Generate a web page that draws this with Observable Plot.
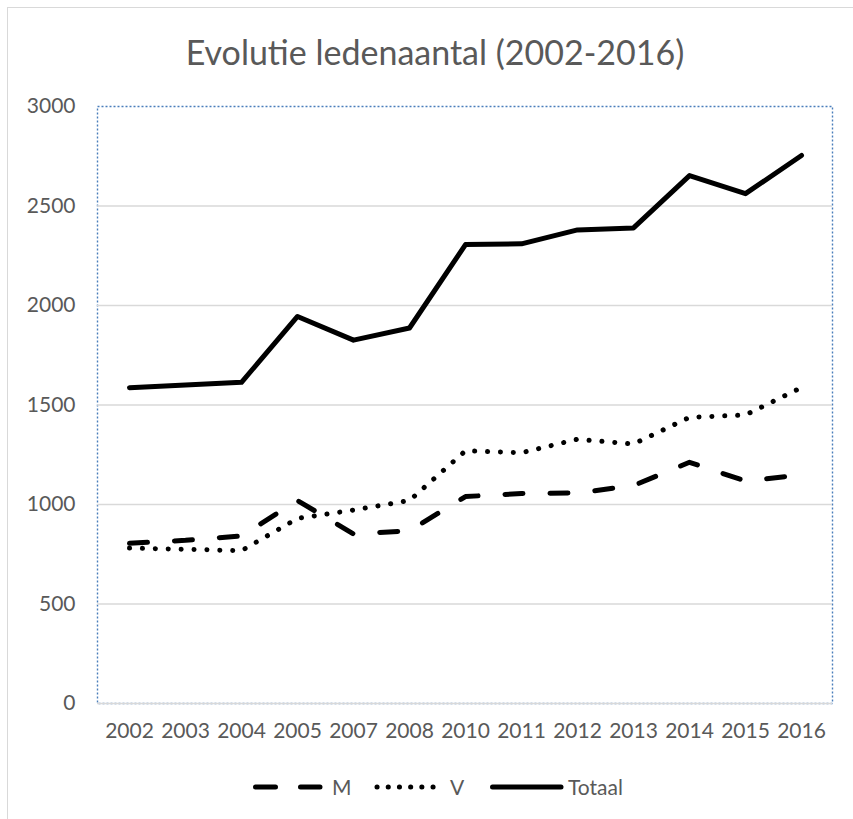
<!DOCTYPE html>
<html>
<head>
<meta charset="utf-8">
<script src="https://cdn.jsdelivr.net/npm/d3@7"></script>
<script src="https://cdn.jsdelivr.net/npm/@observablehq/plot@0.6"></script>
<style>
  html, body { margin: 0; padding: 0; background: #fff; overflow: hidden; }
  #wrap { position: relative; width: 853px; height: 819px; overflow: hidden; font-family: Lato, "Liberation Sans", sans-serif; color: #595959; }
  #border { position: absolute; left: 7px; top: 7px; width: 900px; height: 900px; border: 1.5px solid #d9d9d9; box-sizing: border-box; }
  #title { position: absolute; left: 0; width: 870px; top: 32px; text-align: center; font-size: 34px; line-height: 40px; color: #595959; }
  #chart { position: absolute; left: 0; top: 90px; }
  .leg { position: absolute; top: 775px; height: 24px; }
  .legtxt { position: absolute; top: 774px; font-size: 21px; line-height: 26px; color: #595959; }
</style>
</head>
<body>
<div id="wrap">
  <div id="border"></div>
  <div id="title">Evolutie ledenaantal (2002-2016)</div>
  <div id="chart"></div>
  <svg class="leg" style="left:250px" width="76" height="24"><line x1="5.5" y1="12" x2="70" y2="12" stroke="#000" stroke-width="5" stroke-linecap="round" stroke-dasharray="20 25"/></svg>
  <div class="legtxt" style="left:332px">M</div>
  <svg class="leg" style="left:372px" width="76" height="24"><line x1="5" y1="12" x2="71" y2="12" stroke="#000" stroke-width="5" stroke-linecap="round" stroke-dasharray="0.1 11.1"/></svg>
  <div class="legtxt" style="left:450px">V</div>
  <svg class="leg" style="left:487px" width="80" height="24"><line x1="5.5" y1="12" x2="74" y2="12" stroke="#000" stroke-width="5" stroke-linecap="round"/></svg>
  <div class="legtxt" style="left:568px">Totaal</div>
</div>
<script>
const years = ["2002","2003","2004","2005","2007","2008","2010","2011","2012","2013","2014","2015","2016"];
const seriesM = [805, 820, 842, 1020, 852, 868, 1040, 1055, 1058, 1095, 1212, 1118, 1148];
const seriesV = [781, 775, 768, 930, 972, 1020, 1270, 1260, 1328, 1304, 1438, 1450, 1588];
const seriesTotaal = [1587, 1600, 1614, 1945, 1826, 1887, 2306, 2310, 2380, 2390, 2653, 2562, 2754];
const yTicks = [0, 500, 1000, 1500, 2000, 2500, 3000];
const gridTicks = [0, 500, 1000, 1500, 2000, 2500];

const toRows = (arr) => years.map((y, i) => ({year: y, value: arr[i]}));

const chart = Plot.plot({
  width: 853,
  height: 680,
  marginLeft: 97,
  marginRight: 21,
  marginTop: 16,
  marginBottom: 67,
  style: {fontFamily: "Lato, 'Liberation Sans', sans-serif", fontSize: "21px", color: "#595959", background: "transparent", overflow: "visible"},
  x: {type: "point", domain: years, padding: 0.5},
  y: {domain: [0, 3000]},
  marks: [
    Plot.frame({stroke: "#4a7ebb", strokeWidth: 1.4, strokeDasharray: "2 2"}),
    Plot.ruleY(gridTicks, {stroke: "#d9d9d9", strokeWidth: 1.5}),
    Plot.axisY({ticks: yTicks, tickSize: 0, tickPadding: 22, tickFormat: d => String(d), label: null, fontSize: 21}),
    Plot.axisX({tickSize: 0, tickPadding: 20, label: null, fontSize: 21}),
    Plot.line(toRows(seriesM), {x: "year", y: "value", stroke: "#000", strokeWidth: 5, strokeDasharray: "18 27", strokeLinecap: "round", strokeLinejoin: "round"}),
    Plot.line(toRows(seriesV), {x: "year", y: "value", stroke: "#000", strokeWidth: 5, strokeDasharray: "0.1 12.8", strokeLinecap: "round", strokeLinejoin: "round"}),
    Plot.line(toRows(seriesTotaal), {x: "year", y: "value", stroke: "#000", strokeWidth: 5, strokeLinecap: "round", strokeLinejoin: "round"})
  ]
});
document.getElementById("chart").appendChild(chart);
</script>
</body>
</html>
